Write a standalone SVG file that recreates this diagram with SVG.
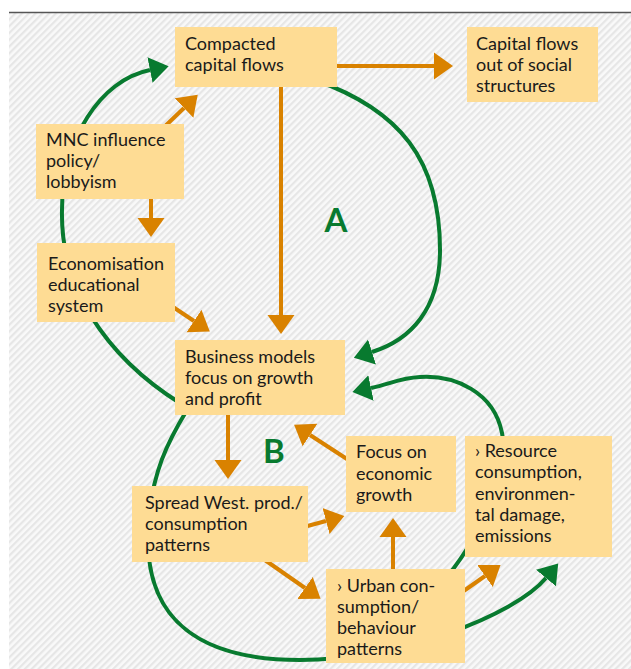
<svg xmlns="http://www.w3.org/2000/svg" width="631" height="669" viewBox="0 0 631 669">
  <defs>
    <pattern id="hatch" width="4.8" height="4.8" patternUnits="userSpaceOnUse" patternTransform="rotate(45)">
      <rect width="4.8" height="4.8" fill="#f9f9f9"/>
      <rect width="2.2" height="4.8" fill="#e6e6e6"/>
    </pattern>
    <marker id="headO" markerUnits="userSpaceOnUse" viewBox="0 -14 20 28" markerWidth="20" markerHeight="28" refX="0" refY="0" orient="auto">
      <path d="M0,-13.5 L19,0 L0,13.5 Z" fill="#d98200"/>
    </marker>
    <marker id="headG" markerUnits="userSpaceOnUse" viewBox="0 -14 20 28" markerWidth="20" markerHeight="28" refX="0" refY="0" orient="auto">
      <path d="M0,-13 L19,0 L0,13 Z" fill="#087a2f"/>
    </marker>
  </defs>
  <style>
    .box { fill: #fedc94; }
    .lbl { font-family: Lato, "Open Sans", sans-serif; font-size: 18px; fill: #1a1a1a; }
    .loop { font-family: Lato, "Open Sans", sans-serif; font-size: 33px; font-weight: bold; fill: #087a2f; }
    .o { fill: none; stroke: #d98200; stroke-width: 4; marker-end: url(#headO); }
    .g { fill: none; stroke: #087a2f; stroke-width: 4; }
    .ga { marker-end: url(#headG); }
  </style>

  <!-- hatched panel with top rule -->
  <rect x="9" y="12" width="622" height="657" fill="url(#hatch)"/>
  <line x1="9" y1="12.5" x2="631" y2="12.5" stroke="#555" stroke-width="1.6"/>

  <g id="connectors">
    <!-- feedback loops -->
    <path class="g ga" d="M315,80 C400,110 440,160 440,250 C440,310 410,340 372,352"/>
    <path class="g ga" d="M195,412 C120,370 60,300 62,210 C62,140 100,80 150,70"/>
    <path class="g ga" d="M190,405 C175,430 148,470 148,540 C148,620 200,660 300,660 C400,660 515,615 546,578"/>
    <path class="g ga" d="M440,585 C480,540 510,470 502,433 C494,392 455,375 420,377 C400,378 390,384 371,388"/>
    <!-- causal links -->
    <path class="o" d="M337,66 H434"/>
    <path class="o" d="M281,87 V315"/>
    <path class="o" d="M160,131 L184,108"/>
    <path class="o" d="M151,199 V218"/>
    <path class="o" d="M170,305 L194,321"/>
    <path class="o" d="M228,415 V460"/>
    <path class="o" d="M350,461 L310,435"/>
    <path class="o" d="M300,528 L326,521"/>
    <path class="o" d="M262,558 L305,588"/>
    <path class="o" d="M393,569 V537"/>
    <path class="o" d="M458,595 L485,576"/>
  </g>

  <g id="compacted">
    <rect class="box" x="175" y="27" width="162" height="60"/>
    <text class="lbl" x="185" y="50">Compacted</text>
    <text class="lbl" x="185" y="71">capital flows</text>
  </g>
  <g id="capital-out">
    <rect class="box" x="467" y="27" width="131" height="75"/>
    <text class="lbl" x="476" y="50">Capital flows</text>
    <text class="lbl" x="476" y="71">out of social</text>
    <text class="lbl" x="476" y="92">structures</text>
  </g>
  <g id="mnc">
    <rect class="box" x="36" y="124" width="148" height="75"/>
    <text class="lbl" x="46" y="146">MNC influence</text>
    <text class="lbl" x="46" y="167">policy/</text>
    <text class="lbl" x="46" y="188">lobbyism</text>
  </g>
  <g id="economisation">
    <rect class="box" x="37" y="243" width="138" height="79"/>
    <text class="lbl" x="48" y="270">Economisation</text>
    <text class="lbl" x="48" y="291">educational</text>
    <text class="lbl" x="48" y="312">system</text>
  </g>
  <g id="business">
    <rect class="box" x="175" y="340" width="170" height="75"/>
    <text class="lbl" x="185" y="363">Business models</text>
    <text class="lbl" x="185" y="384">focus on growth</text>
    <text class="lbl" x="185" y="405">and profit</text>
  </g>
  <g id="spread">
    <rect class="box" x="132" y="486" width="176" height="76"/>
    <text class="lbl" x="145" y="509">Spread West. prod./</text>
    <text class="lbl" x="145" y="530">consumption</text>
    <text class="lbl" x="145" y="551">patterns</text>
  </g>
  <g id="focus">
    <rect class="box" x="346" y="436" width="110" height="76"/>
    <text class="lbl" x="356" y="458">Focus on</text>
    <text class="lbl" x="356" y="480">economic</text>
    <text class="lbl" x="356" y="501">growth</text>
  </g>
  <g id="resource">
    <rect class="box" x="465" y="436" width="147" height="121"/>
    <text class="lbl" x="475" y="457">› Resource</text>
    <text class="lbl" x="475" y="478">consumption,</text>
    <text class="lbl" x="475" y="500">environmen-</text>
    <text class="lbl" x="475" y="521">tal damage,</text>
    <text class="lbl" x="475" y="542">emissions</text>
  </g>
  <g id="urban">
    <rect class="box" x="326" y="569" width="139" height="94"/>
    <text class="lbl" x="337" y="592">› Urban con-</text>
    <text class="lbl" x="337" y="613">sumption/</text>
    <text class="lbl" x="337" y="634">behaviour</text>
    <text class="lbl" x="337" y="655">patterns</text>
  </g>

  <g id="loop-labels">
    <text class="loop" x="336" y="232" text-anchor="middle">A</text>
    <text class="loop" x="263" y="463">B</text>
  </g>
</svg>
